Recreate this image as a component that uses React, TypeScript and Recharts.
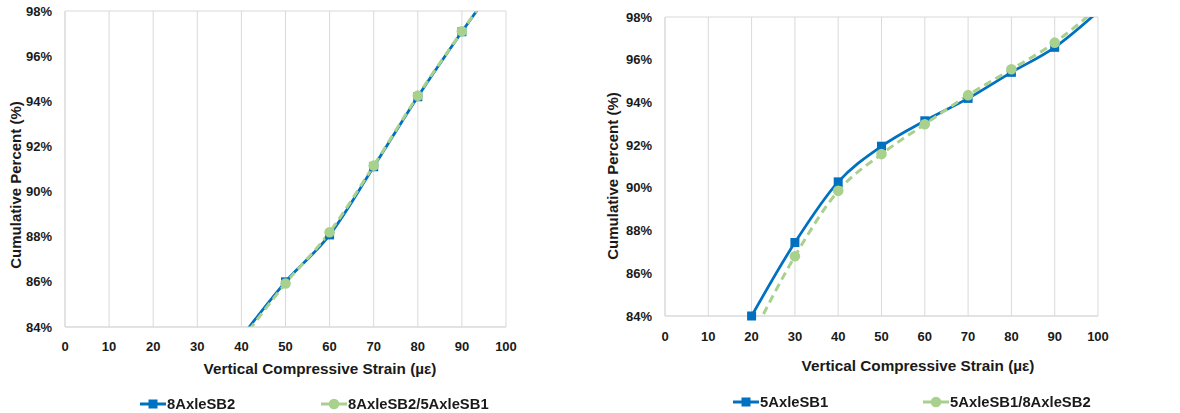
import React from 'react';
import { LineChart, Line, XAxis, YAxis, CartesianGrid, Label } from 'recharts';

// ---- data ----
const leftStrain = [40, 50, 60, 70, 80, 90, 100];
const left8AxleSB2 = [83.55, 86.0, 88.08, 91.1, 94.2, 97.08, 99.8];
const left8AxleSB2over5AxleSB1 = [83.4, 85.93, 88.2, 91.15, 94.25, 97.1, 99.85];

const rightStrain = [20, 30, 40, 50, 60, 70, 80, 90, 100];
const right5AxleSB1 = [84.0, 87.44, 90.28, 91.95, 93.14, 94.19, 95.41, 96.58, 98.25];
const right5AxleSB1over8AxleSB2 = [83.0, 86.8, 89.86, 91.58, 92.98, 94.34, 95.55, 96.8, 98.45];

const xTicks = [0, 10, 20, 30, 40, 50, 60, 70, 80, 90, 100];
const yTicks = [84, 86, 88, 90, 92, 94, 96, 98];
const Y_MIN = 84;
const Y_MAX = 98;

const BLUE = '#0070C0';
const GREEN = '#A9D18E';
const GRID = '#D9D9D9';
const TEXT = '#1a1a1a';
const FONT = "'Liberation Sans', Arial, sans-serif";

const inRange = (v: number) => (v >= Y_MIN && v <= Y_MAX ? v : null);

function buildRows(xs: number[], a: number[], b: number[]) {
  return xs.map((x, i) => ({
    x,
    a: a[i],
    b: b[i],
    am: inRange(a[i]),
    bm: inRange(b[i]),
  }));
}

const SquareDot = (props: any) => {
  const { cx, cy, value, index } = props;
  if (cx == null || cy == null || value == null || isNaN(cy)) return <g key={`s${index}`} />;
  return <rect key={`s${index}`} x={cx - 4.5} y={cy - 4.5} width={9} height={9} fill={BLUE} />;
};
const CircleDot = (props: any) => {
  const { cx, cy, value, index } = props;
  if (cx == null || cy == null || value == null || isNaN(cy)) return <g key={`c${index}`} />;
  return <circle key={`c${index}`} cx={cx} cy={cy} r={5.3} fill={GREEN} />;
};

type PanelProps = {
  rows: any[];
  margin: { top: number; right: number; bottom: number; left: number };
  yTitle: { x: number; y: number };
  xTitleY: number;
  xTitleX: number;
  tickMarginX: number;
  legend: { label: string; color: string; shape: 'square' | 'circle'; left: number }[];
  legendTop: number;
};

const LegendIcon = ({ color, shape }: { color: string; shape: 'square' | 'circle' }) => (
  <svg width={26} height={14} style={{ display: 'block' }}>
    <line x1={0} y1={7} x2={26} y2={7} stroke={color} strokeWidth={3} />
    {shape === 'square' ? (
      <rect x={8.5} y={2.5} width={9} height={9} fill={color} />
    ) : (
      <circle cx={13} cy={7} r={5.3} fill={color} />
    )}
  </svg>
);

function Panel(p: PanelProps) {
  const tickStyle = { fontFamily: FONT, fontWeight: 700, fontSize: 13, fill: TEXT };
  return (
    <div style={{ position: 'relative', width: 590, height: 413 }}>
      <LineChart width={590} height={413} data={p.rows} margin={p.margin}>
        <CartesianGrid stroke={GRID} strokeWidth={1} />
        <XAxis
          dataKey="x"
          type="number"
          domain={[0, 100]}
          ticks={xTicks}
          interval={0}
          stroke={GRID}
          tickLine={false}
          tickSize={0}
          tickMargin={p.tickMarginX}
          tick={tickStyle}
          height={30}
        >
          <Label
            content={() => (
              <text
                x={p.xTitleX}
                y={p.xTitleY}
                textAnchor="middle"
                dominantBaseline="central"
                style={{ fontFamily: FONT, fontWeight: 700, fontSize: 15.3, fill: TEXT }}
              >
                Vertical Compressive Strain (µε)
              </text>
            )}
          />
        </XAxis>
        <YAxis
          yAxisId="main"
          type="number"
          domain={[Y_MIN, Y_MAX]}
          ticks={yTicks}
          allowDataOverflow
          interval={0}
          stroke={GRID}
          tickLine={false}
          tickSize={0}
          tickMargin={13}
          width={55}
          tick={tickStyle}
          tickFormatter={(v: number) => `${v}%`}
        >
          <Label
            content={() => (
              <text
                x={p.yTitle.x}
                y={p.yTitle.y}
                textAnchor="middle"
                dominantBaseline="central"
                transform={`rotate(-90 ${p.yTitle.x} ${p.yTitle.y})`}
                style={{ fontFamily: FONT, fontWeight: 700, fontSize: 15, fill: TEXT }}
              >
                Cumulative Percent (%)
              </text>
            )}
          />
        </YAxis>
        <YAxis yAxisId="mark" type="number" domain={[Y_MIN, Y_MAX]} ticks={yTicks} hide />
        <Line
          yAxisId="main"
          dataKey="a"
          type="monotone"
          stroke={BLUE}
          strokeWidth={2.75}
          dot={false}
          activeDot={false}
          isAnimationActive={false}
        />
        <Line
          yAxisId="mark"
          dataKey="am"
          stroke="none"
          dot={SquareDot}
          activeDot={false}
          legendType="none"
          isAnimationActive={false}
        />
        <Line
          yAxisId="main"
          dataKey="b"
          type="monotone"
          stroke={GREEN}
          strokeWidth={3}
          strokeDasharray="8 5"
          dot={false}
          activeDot={false}
          isAnimationActive={false}
        />
        <Line
          yAxisId="mark"
          dataKey="bm"
          stroke="none"
          dot={CircleDot}
          activeDot={false}
          legendType="none"
          isAnimationActive={false}
        />
      </LineChart>
      {p.legend.map((it) => (
        <div
          key={it.label}
          style={{
            position: 'absolute',
            left: it.left,
            top: p.legendTop,
            display: 'flex',
            alignItems: 'center',
            fontFamily: FONT,
            fontWeight: 700,
            fontSize: 14.8,
            color: TEXT,
            whiteSpace: 'nowrap',
            lineHeight: '20px',
          }}
        >
          <LegendIcon color={it.color} shape={it.shape} />
          <span style={{ marginLeft: 1 }}>{it.label}</span>
        </div>
      ))}
    </div>
  );
}

export default function App() {
  const leftRows = buildRows(leftStrain, left8AxleSB2, left8AxleSB2over5AxleSB1);
  const rightRows = buildRows(rightStrain, right5AxleSB1, right5AxleSB1over8AxleSB2);
  return (
    <div
      style={{
        position: 'fixed',
        left: 0,
        top: 0,
        width: 1180,
        height: 413,
        background: '#fff',
        display: 'flex',
      }}
    >
      <Panel
        rows={leftRows}
        margin={{ top: 11, right: 84, bottom: 56, left: 10 }}
        yTitle={{ x: 15, y: 185 }}
        xTitleX={320}
        xTitleY={368}
        tickMarginX={15}
        legendTop={394}
        legend={[
          { label: '8AxleSB2', color: BLUE, shape: 'square', left: 140 },
          { label: '8AxleSB2/5AxleSB1', color: GREEN, shape: 'circle', left: 321 },
        ]}
      />
      <Panel
        rows={rightRows}
        margin={{ top: 17, right: 82, bottom: 67, left: 20 }}
        yTitle={{ x: 22, y: 176 }}
        xTitleX={328}
        xTitleY={365}
        tickMarginX={16}
        legendTop={392}
        legend={[
          { label: '5AxleSB1', color: BLUE, shape: 'square', left: 143 },
          { label: '5AxleSB1/8AxleSB2', color: GREEN, shape: 'circle', left: 333 },
        ]}
      />
    </div>
  );
}
